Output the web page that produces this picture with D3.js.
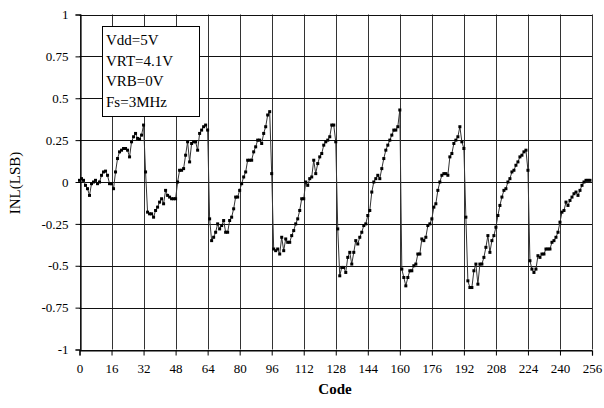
<!DOCTYPE html>
<html>
<head>
<meta charset="utf-8">
<script src="https://cdn.jsdelivr.net/npm/d3@7"></script>
<style>
html,body{margin:0;padding:0;background:#fff;}
svg{display:block;}
</style>
</head>
<body>
<svg id="chart" width="604" height="408"></svg>
<script>
// ---- data (INL in LSB for each code 0..255) ----
const inl0_31 = [0.01, 0.02, 0.01, -0.02, -0.04, -0.08, -0.01, 0.00, 0.01, -0.01, 0.00, 0.04, 0.06, 0.065, 0.04, -0.01,
                 -0.01, -0.04, 0.06, 0.14, 0.18, 0.19, 0.20, 0.20, 0.19, 0.15, 0.24, 0.27, 0.29, 0.26, 0.255, 0.28];
const inl32_63 = [0.34, 0.06, -0.18, -0.19, -0.19, -0.21, -0.17, -0.15, -0.12, -0.10, -0.13, -0.05, -0.08, -0.09, -0.10, -0.10,
                  -0.10, 0.00, 0.07, 0.07, 0.08, 0.16, 0.24, 0.12, 0.23, 0.24, 0.24, 0.19, 0.29, 0.31, 0.33, 0.34];
const inl64_95 = [0.31, -0.22, -0.35, -0.33, -0.30, -0.25, -0.28, -0.26, -0.23, -0.30, -0.30, -0.23, -0.21, -0.16, -0.09, -0.09,
                  -0.05, -0.01, 0.03, 0.06, 0.13, 0.13, 0.13, 0.18, 0.21, 0.25, 0.25, 0.23, 0.29, 0.33, 0.40, 0.42];
const inl96_127 = [0.05, -0.40, -0.41, -0.40, -0.43, -0.33, -0.41, -0.34, -0.36, -0.36, -0.32, -0.29, -0.25, -0.22, -0.17, -0.10,
                   -0.10, 0.00, -0.02, 0.02, 0.03, 0.13, 0.05, 0.11, 0.15, 0.17, 0.22, 0.24, 0.25, 0.27, 0.34, 0.34];
const inl128_159 = [0.24, -0.28, -0.56, -0.51, -0.51, -0.54, -0.45, -0.42, -0.49, -0.42, -0.35, -0.37, -0.33, -0.30, -0.26, -0.25,
                    -0.20, -0.17, -0.06, 0.00, 0.02, 0.04, 0.02, 0.08, 0.14, 0.19, 0.22, 0.25, 0.28, 0.31, 0.31, 0.33];
const inl160_191 = [0.43, -0.52, -0.57, -0.62, -0.57, -0.53, -0.53, -0.50, -0.49, -0.43, -0.43, -0.34, -0.35, -0.33, -0.26, -0.25,
                    -0.22, -0.15, -0.13, -0.05, 0.00, 0.04, 0.05, 0.05, 0.04, 0.15, 0.17, 0.23, 0.25, 0.27, 0.33, 0.24];
const inl192_223 = [0.20, -0.21, -0.59, -0.63, -0.63, -0.53, -0.49, -0.61, -0.49, -0.49, -0.45, -0.39, -0.32, -0.42, -0.35, -0.32,
                    -0.27, -0.20, -0.14, -0.09, -0.05, -0.04, 0.00, 0.02, 0.06, 0.07, 0.10, 0.12, 0.15, 0.16, 0.18, 0.19];
const inl224_255 = [0.07, -0.47, -0.52, -0.54, -0.52, -0.44, -0.45, -0.43, -0.43, -0.40, -0.40, -0.40, -0.36, -0.35, -0.33, -0.30,
                    -0.24, -0.18, -0.17, -0.12, -0.14, -0.11, -0.09, -0.07, -0.06, -0.08, -0.05, -0.02, 0.00, 0.01, 0.01, 0.01];

const xTicks = [0, 16, 32, 48, 64, 80, 96, 112, 128, 144, 160, 176, 192, 208, 224, 240, 256];
const yTicks = [1, 0.75, 0.5, 0.25, 0, -0.25, -0.5, -0.75, -1];
const legendLines = ["Vdd=5V", "VRT=4.1V", "VRB=0V", "Fs=3MHz"];
const xTitle = "Code";
const yTitle = "INL(LSB)";

const inl = [].concat(inl0_31, inl32_63, inl64_95, inl96_127, inl128_159, inl160_191, inl192_223, inl224_255);
const data = inl.map((v, i) => ({code: i, v: v}));

// ---- layout ----
const svg = d3.select("#chart");
const L = 79.5, R = 592, T = 14.5, B = 349.5;
const x = d3.scaleLinear().domain([0, 256]).range([L, R]);
const y = d3.scaleLinear().domain([-1, 1]).range([B, T]);
const font = "'Liberation Serif', 'Times New Roman', serif";

// vertical grid
svg.append("g").selectAll("line").data(xTicks).join("line")
  .attr("x1", d => Math.round(x(d)) + 0.5).attr("x2", d => Math.round(x(d)) + 0.5)
  .attr("y1", T).attr("y2", B)
  .attr("stroke", "#333").attr("stroke-width", 1);
// horizontal grid
svg.append("g").selectAll("line").data(yTicks).join("line")
  .attr("x1", L).attr("x2", R)
  .attr("y1", d => Math.round(y(d)) + 0.5).attr("y2", d => Math.round(y(d)) + 0.5)
  .attr("stroke", "#111").attr("stroke-width", 1.2);

// axes
const yAxis = svg.append("g").attr("transform", `translate(${Math.round(L) + 0.5},0)`)
  .call(d3.axisLeft(y).tickValues(yTicks).tickFormat(d => String(d)).tickSize(5).tickPadding(7));
const xAxis = svg.append("g").attr("transform", `translate(0,${Math.round(B) + 0.5})`)
  .call(d3.axisBottom(x).tickValues(xTicks).tickFormat(d => String(d)).tickSize(5).tickPadding(8));
[yAxis, xAxis].forEach(g => {
  g.select(".domain").attr("stroke", "#000").attr("stroke-width", 1.2);
  g.selectAll(".tick line").attr("stroke", "#000");
  g.selectAll(".tick text").attr("fill", "#000").style("font-family", font).style("font-size", "13px");
});

// titles
svg.append("text").attr("x", 335).attr("y", 394).attr("text-anchor", "middle")
  .style("font-family", font).style("font-size", "15px").style("font-weight", "bold").text(xTitle);
svg.append("text").attr("transform", "translate(20,183) rotate(-90)").attr("text-anchor", "middle")
  .style("font-family", font).style("font-size", "15px").text(yTitle);

// data line
const line = d3.line().x(d => x(d.code)).y(d => y(d.v));
svg.append("path").datum(data).attr("d", line)
  .attr("fill", "none").attr("stroke", "#333").attr("stroke-width", 1);
svg.append("g").selectAll("rect").data(data).join("rect")
  .attr("x", d => x(d.code) - 1.5).attr("y", d => y(d.v) - 1.5)
  .attr("width", 3).attr("height", 3).attr("fill", "#000");

// legend box
const lg = svg.append("g");
lg.append("rect").attr("x", 102.5).attr("y", 26.5).attr("width", 97).attr("height", 90)
  .attr("fill", "#fff").attr("stroke", "#000").attr("stroke-width", 1);
lg.selectAll("text").data(legendLines).join("text")
  .attr("x", 106).attr("y", (d, i) => 45 + i * 20.5)
  .style("font-family", font).style("font-size", "15px").attr("fill", "#000").text(d => d);
</script>
</body>
</html>
